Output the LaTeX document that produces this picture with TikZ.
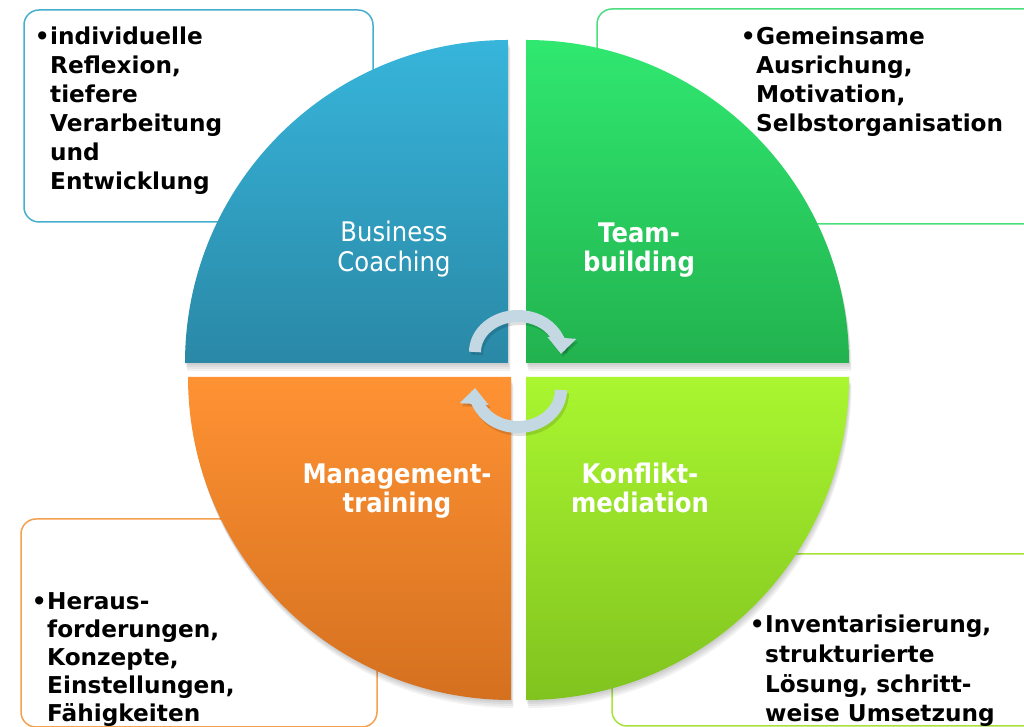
\documentclass[tikz,border=0pt]{standalone}
\usepackage{fontspec}
\setmainfont{DejaVu Sans}
\newfontfamily\condfont[FakeStretch=0.9]{DejaVu Sans}
\usetikzlibrary{arrows.meta}
\definecolor{bTL}{HTML}{46AFCF}
\definecolor{bTR}{HTML}{4ADE7D}
\definecolor{bBL}{HTML}{F5A04E}
\definecolor{bBR}{HTML}{A8E23A}
\definecolor{qTLt}{HTML}{37B5DB}
\definecolor{qTLb}{HTML}{2A88A6}
\definecolor{qTRt}{HTML}{30E870}
\definecolor{qTRb}{HTML}{22B24F}
\definecolor{qBLt}{HTML}{FF9233}
\definecolor{qBLb}{HTML}{D4701F}
\definecolor{qBRt}{HTML}{AAF630}
\definecolor{qBRb}{HTML}{80C31F}
\definecolor{arrc}{HTML}{C3D8E2}
\tikzset{
  infobox/.style={draw=#1, line width=1.5pt, rounded corners=15pt, fill=white},
  bul/.style={anchor=base east, inner sep=0pt, font=\fontsize{23.2}{29}\selectfont\bfseries},
  btxt/.style={anchor=base west, inner sep=0pt, align=left, font=\fontsize{23.2}{#1}\selectfont\bfseries},
  btxt/.default=29,
  qlab/.style={anchor=base, text=white, align=center, inner sep=0pt, font=\condfont\fontsize{27}{29.5}\selectfont\bfseries},
  qlabn/.style={anchor=base, text=white, align=center, inner sep=0pt, font=\condfont\fontsize{27}{30}\selectfont},
  qshadow/.style={fill=black, opacity=0.05},
  cyc/.style={draw=arrc, line width=12pt, -{Triangle[width=28pt,length=16pt]}},
  cycshadow/.style={draw=black, opacity=0.12, line width=12pt, -{Triangle[width=28pt,length=16pt]}}
}
\begin{document}
\begin{tikzpicture}[x=1pt,y=1pt]
\useasboundingbox (0,0) rectangle (1024,727);
\clip (0,0) rectangle (1024,727);

% info boxes
\draw[infobox=bTL] (24,505) rectangle (373,717);
\draw[infobox=bTR] (597,503) rectangle (1045,718);
\draw[infobox=bBL] (21,0) rectangle (377,208);
\draw[infobox=bBR] (612,1) rectangle (1045,173);

% shadows of quadrants
\foreach \s in {2,4,6,8}{
  \fill[qshadow, shift={(0.3*\s,-\s)}] (508,364) -- (185,364) arc[start angle=180,end angle=90,radius=323pt] -- cycle;
  \fill[qshadow, shift={(0.3*\s,-\s)}] (526,364) -- (526,687) arc[start angle=90,end angle=0,radius=323pt] -- cycle;
  \fill[qshadow, shift={(0.3*\s,-\s)}] (511,350) -- (188,350) arc[start angle=180,end angle=270,radius=323pt] -- cycle;
  \fill[qshadow, shift={(0.3*\s,-\s)}] (526,350) -- (849,350) arc[start angle=0,end angle=-90,radius=323pt] -- cycle;
}

% quadrants
\shade[top color=qTLt, bottom color=qTLb] (508,364) -- (185,364) arc[start angle=180,end angle=90,radius=323pt] -- cycle;
\shade[top color=qTRt, bottom color=qTRb] (526,364) -- (526,687) arc[start angle=90,end angle=0,radius=323pt] -- cycle;
\shade[top color=qBLt, bottom color=qBLb] (511,350) -- (188,350) arc[start angle=180,end angle=270,radius=323pt] -- cycle;
\shade[top color=qBRt, bottom color=qBRb] (526,350) -- (849,350) arc[start angle=0,end angle=-90,radius=323pt] -- cycle;

% quadrant labels (anchor = baseline of the last line)
\node[qlabn] (bc) at (394,455) {Business\\Coaching};
\node[qlab] (tb) at (639,455) {Team-\\building};
\node[qlab] (mt) at (397,214) {Management-\\training};
\node[qlab] (km) at (640,214) {Konflikt-\\mediation};

% cycle arrows
\draw[cycshadow, shift={(2,-3)}] (475,375) arc[start angle=180,end angle=-3,x radius=43pt,y radius=36pt];
\draw[cycshadow, shift={(2,-3)}] (561,337) arc[start angle=0,end angle=-183,x radius=43pt,y radius=37pt];
\draw[cyc] (475,375) arc[start angle=180,end angle=-3,x radius=43pt,y radius=36pt];
\draw[cyc] (561,337) arc[start angle=0,end angle=-183,x radius=43pt,y radius=37pt];

% bullet texts (bullet at first baseline, text anchored at last baseline)
\node[bul] (b1) at (50,682) {•};
\node[btxt] (t1) at (50,537) {individuelle\\Reflexion,\\tiefere\\Verarbeitung\\und\\Entwicklung};
\node[bul] (b2) at (756,682) {•};
\node[btxt] (t2) at (756,595) {Gemeinsame\\Ausrichung,\\Motivation,\\Selbstorganisation};
\node[bul] (b3) at (47,117) {•};
\node[btxt=28] (t3) at (47,5) {Heraus-\\forderungen,\\Konzepte,\\Einstellungen,\\Fähigkeiten};
\node[bul] (b4) at (765,94) {•};
\node[btxt=29.67] (t4) at (765,5) {Inventarisierung,\\strukturierte\\Lösung, schritt-\\weise Umsetzung};
\end{tikzpicture}
\end{document}
